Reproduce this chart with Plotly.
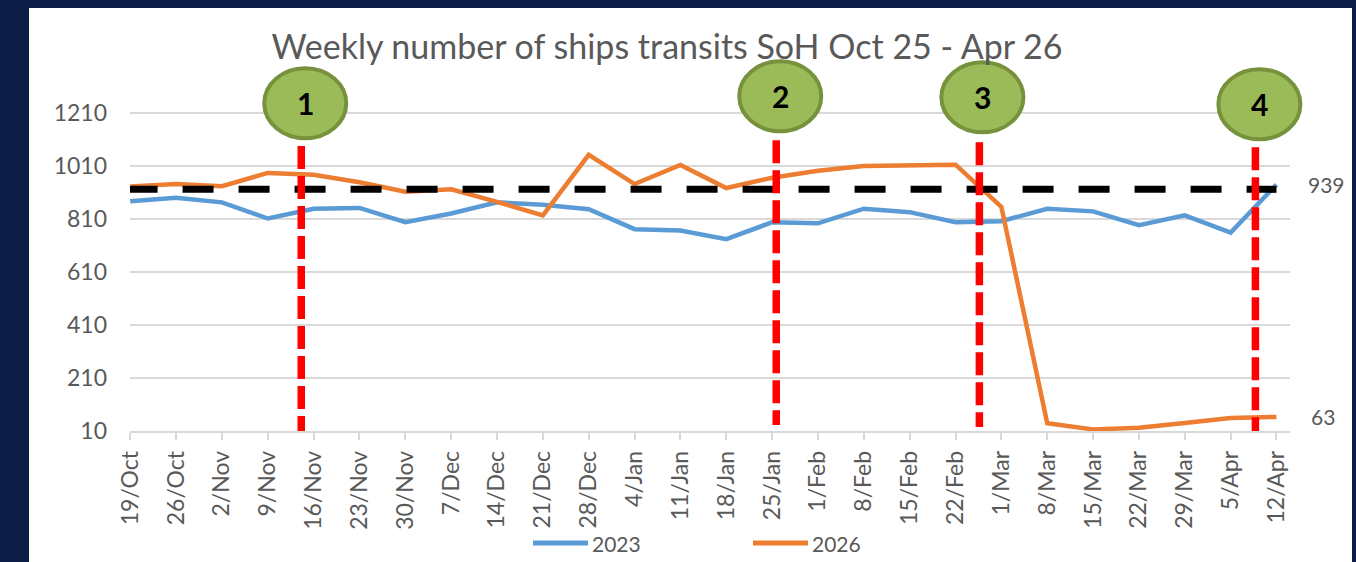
import plotly.graph_objects as go

# ---------------- data ----------------
weeks = ["19/Oct", "26/Oct", "2/Nov", "9/Nov", "16/Nov", "23/Nov", "30/Nov", "7/Dec",
         "14/Dec", "21/Dec", "28/Dec", "4/Jan", "11/Jan", "18/Jan", "25/Jan", "1/Feb",
         "8/Feb", "15/Feb", "22/Feb", "1/Mar", "8/Mar", "15/Mar", "22/Mar", "29/Mar",
         "5/Apr", "12/Apr"]
transits_2023 = [876, 889, 872, 811, 848, 851, 797, 830, 872, 863, 846, 771, 766, 733,
                 797, 793, 848, 835, 797, 801, 848, 838, 786, 823, 758, 939]
transits_2026 = [932, 941, 933, 983, 976, 948, 912, 921, 874, 823, 1051, 941, 1013, 926,
                 965, 991, 1009, 1011, 1014, 855, 39, 16, 22, 40, 59, 63]
reference_level = 921
event_labels = ["1", "2", "3", "4"]
event_positions = [3.73, 14.09, 18.52, 24.54]   # position along the week axis (index units)
y_ticks = [10, 210, 410, 610, 810, 1010, 1210]

# ---------------- styling ----------------
NAVY = "#0B1D45"
GREY_TXT = "#595959"
GRID = "#D9D9D9"
BLUE = "#5B9BD5"
ORANGE = "#ED7D31"
FONT = "Lato"

W, H = 1356, 562
L, R, T, B = 130, 66, 60, 131
PW, PH = W - L - R, H - T - B

X_RANGE = [-0.005, PW / 45.85 - 0.005]
Y_RANGE = [10, 10 + PH * 1200 / 318.3]

def px_x(p):  # pixel -> paper x
    return (p - L) / PW

def px_y(p):  # pixel -> paper y
    return (H - B - p) / PH

def data_to_paper_x(v):
    return (v - X_RANGE[0]) / (X_RANGE[1] - X_RANGE[0])

def data_to_paper_y(v):
    return (v - Y_RANGE[0]) / (Y_RANGE[1] - Y_RANGE[0])

idx = list(range(len(weeks)))

fig = go.Figure()
fig.add_trace(go.Scatter(x=idx, y=transits_2023, mode="lines", name="2023",
                         line=dict(color=BLUE, width=4.5), showlegend=False))
fig.add_trace(go.Scatter(x=idx, y=transits_2026, mode="lines", name="2026",
                         line=dict(color=ORANGE, width=4.5), showlegend=False))

shapes = []
# white panel on navy background
shapes.append(dict(type="rect", xref="paper", yref="paper",
                   x0=px_x(29), x1=px_x(1352), y0=px_y(562), y1=px_y(8),
                   fillcolor="white", line=dict(width=0), layer="below"))
# black dashed reference level
shapes.append(dict(type="line", xref="x", yref="y", x0=-0.08, x1=idx[-1],
                   y0=reference_level, y1=reference_level,
                   line=dict(color="black", width=7, dash="31px,25px"), layer="above"))
# red event lines
red_tops = [1084, 1106, 1099, 1080]
red_bottoms = [10, 33, 25, 2]
for xp, yt, yb in zip(event_positions, red_tops, red_bottoms):
    shapes.append(dict(type="line", xref="x", yref="y", x0=xp, x1=xp, y0=yt, y1=yb,
                       line=dict(color="#FF0000", width=7.5, dash="23px,7px"), layer="above"))
# green event circles (paper refs so they are not clipped by the plot area)
circle_y = [1246, 1272, 1268, 1242]
circle_dx = [4, 4, 3, 4]
annotations = []
for lab, xp, cy, dx in zip(event_labels, event_positions, circle_y, circle_dx):
    xa, ya = data_to_paper_x(xp), data_to_paper_y(cy)
    shapes.append(dict(type="circle", xref="paper", yref="paper",
                       xsizemode="pixel", ysizemode="pixel",
                       xanchor=xa, yanchor=ya,
                       x0=dx - 41, x1=dx + 41, y0=-35, y1=35,
                       fillcolor="#9BBB59", line=dict(color="#76923C", width=4),
                       layer="above"))
    annotations.append(dict(x=xa, y=ya, xref="paper", yref="paper", text="<b>%s</b>" % lab,
                            showarrow=False, xshift=dx, yshift=0,
                            font=dict(family=FONT, size=30, color="black"),
                            xanchor="center", yanchor="middle"))

# end-of-series data labels
annotations.append(dict(x=idx[-1], y=transits_2023[-1], xref="x", yref="y",
                        text=str(transits_2023[-1]), showarrow=False, xanchor="left",
                        xshift=30, font=dict(family=FONT, size=21, color=GREY_TXT)))
annotations.append(dict(x=idx[-1], y=transits_2026[-1], xref="x", yref="y",
                        text=str(transits_2026[-1]), showarrow=False, xanchor="left",
                        xshift=33, font=dict(family=FONT, size=21, color=GREY_TXT)))

# custom legend (Excel style, long line samples)
legend_items = [("2023", BLUE, 533, 588), ("2026", ORANGE, 753, 808)]
for name, col, a, b in legend_items:
    shapes.append(dict(type="line", xref="paper", yref="paper",
                       x0=px_x(a), x1=px_x(b), y0=px_y(543), y1=px_y(543),
                       line=dict(color=col, width=5)))
    annotations.append(dict(x=px_x(b + 2), y=px_y(543), xref="paper", yref="paper",
                            text=name, showarrow=False, xanchor="left", yanchor="middle",
                            font=dict(family=FONT, size=21, color=GREY_TXT)))

fig.update_layout(
    width=W, height=H,
    margin=dict(l=L, r=R, t=T, b=B),
    paper_bgcolor=NAVY, plot_bgcolor="rgba(0,0,0,0)",
    title=dict(text="Weekly number of ships transits SoH Oct 25 - Apr 26",
               x=667 / W, xanchor="center", y=1 - 47 / H, yanchor="middle",
               xref="container", yref="container",
               font=dict(family=FONT, size=34, color=GREY_TXT)),
    shapes=shapes, annotations=annotations,
    showlegend=False,
    xaxis=dict(range=X_RANGE, tickmode="array", tickvals=idx,
               ticktext=weeks, tickangle=-90, showgrid=False, zeroline=False,
               showline=True, linecolor=GRID, linewidth=1.5,
               ticks="outside", ticklen=7, tickwidth=1.5, tickcolor=GRID,
               ticklabelstandoff=2,
               tickfont=dict(family=FONT, size=23, color=GREY_TXT), fixedrange=True),
    yaxis=dict(range=Y_RANGE, tickmode="array", tickvals=y_ticks,
               showgrid=True, gridcolor=GRID, gridwidth=1.5, zeroline=False,
               showline=False, ticks="", ticklabelstandoff=22,
               tickfont=dict(family=FONT, size=23, color=GREY_TXT), fixedrange=True),
)

fig.write_html("out.html", config={"displayModeBar": False},
               post_script="document.body.style.margin='0';document.body.style.overflow='hidden';")
